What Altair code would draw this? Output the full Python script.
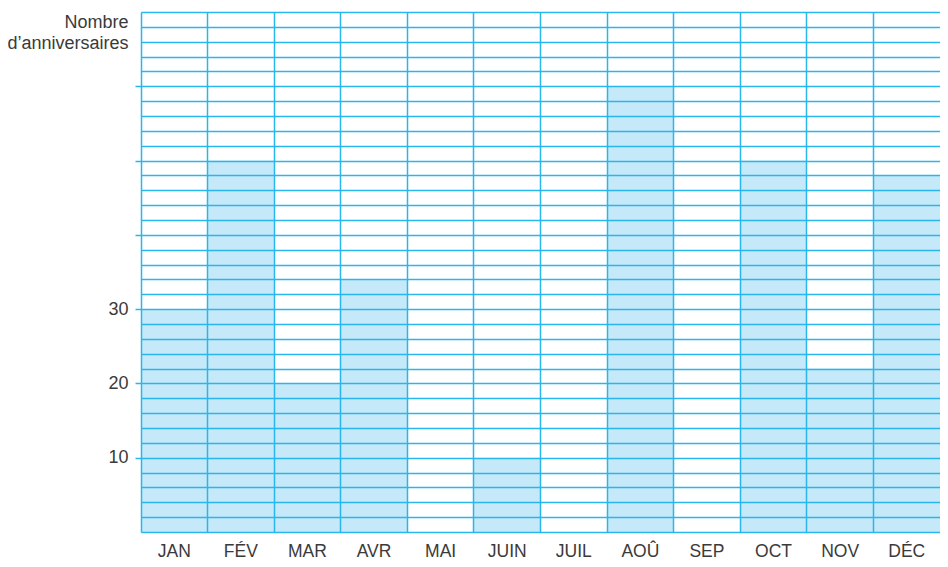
import altair as alt
import pandas as pd

months = ["JAN", "FÉV", "MAR", "AVR", "MAI", "JUIN", "JUIL", "AOÛ", "SEP", "OCT", "NOV", "DÉC"]
counts = [30, 50, 20, 34, 0, 10, 0, 60, 0, 50, 22, 48]
grid_values = list(range(0, 71, 2))

df = pd.DataFrame({"mois": months, "n": counts})

LINE = "#29b6ec"
FILL = "#c6e9f9"
TEXT = "#3a3a3a"
FONT = "Liberation Sans"

chart = alt.Chart(df).mark_bar(color=FILL, strokeWidth=0).encode(
    x=alt.X(
        "mois:N",
        sort=months,
        scale=alt.Scale(paddingInner=0, paddingOuter=0),
        axis=alt.Axis(
            title=None,
            labelAngle=0,
            labelFontSize=17.5,
            labelFont=FONT,
            labelColor=TEXT,
            labelPadding=10,
            ticks=False,
            tickSize=0,
            domain=False,
            grid=True,
            gridColor=LINE,
            gridWidth=1.5,
            bandPosition=0,
            zindex=1,
        ),
    ),
    y=alt.Y(
        "n:Q",
        scale=alt.Scale(domain=[0, 70], nice=False, zero=True),
        axis=alt.Axis(
            values=grid_values,
            grid=True,
            gridColor=LINE,
            gridWidth=1.5,
            domain=False,
            tickSize=6,
            tickWidth=1.5,
            tickColor={
                "condition": {
                    "test": "datum.value % 10 === 0 && datum.value > 0 && datum.value < 70",
                    "value": LINE,
                },
                "value": "rgba(0,0,0,0)",
            },
            labelExpr="(datum.value % 10 === 0 && datum.value > 0 && datum.value <= 30) ? datum.label : ''",
            labelFontSize=18,
            labelFont=FONT,
            labelColor=TEXT,
            labelPadding=7,
            title=["Nombre", "d’anniversaires"],
            titleAngle=0,
            titleAlign="right",
            titleBaseline="alphabetic",
            titleX=-13,
            titleY=15,
            titleFontSize=18,
            titleFont=FONT,
            titleFontWeight="normal",
            titleColor=TEXT,
            titleLineHeight=21,
            zindex=1,
        ),
    ),
).properties(
    width=799,
    height=520,
    autosize=alt.AutoSizeParams(type="none"),
    padding={"left": 133, "top": 4, "right": 0, "bottom": 27},
).configure_view(stroke=None).configure(background="white")

chart.save("out.html", embed_options={"renderer": "svg", "actions": False})
